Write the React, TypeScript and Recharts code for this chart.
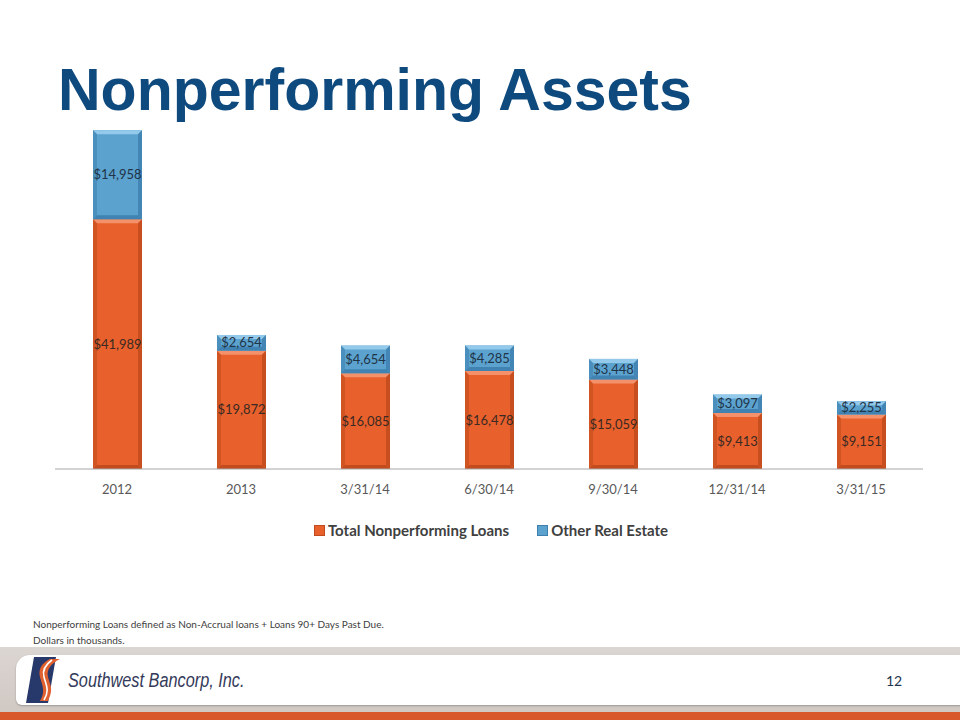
import { BarChart, Bar, XAxis, YAxis, Legend, LabelList } from 'recharts'

// Period labels along the x axis
const periods = ['2012', '2013', '3/31/14', '6/30/14', '9/30/14', '12/31/14', '3/31/15']

// Dollars in thousands
const nonperformingLoans = [41989, 19872, 16085, 16478, 15059, 9413, 9151]
const otherRealEstate = [14958, 2654, 4654, 4285, 3448, 3097, 2255]

const chartData = periods.map((name, i) => ({
  name,
  loans: nonperformingLoans[i],
  ore: otherRealEstate[i]
}))

const COLORS = {
  title: '#0E4A7E',
  orange: '#E8602C',
  orangeLight: '#F4916A',
  orangeDark: '#BE4A1D',
  blue: '#5BA2CF',
  blueLight: '#93C9EA',
  blueDark: '#3D80AE',
  text: '#595959',
  legend: '#404040'
}

const FONT = 'Lato, "Open Sans", sans-serif'

const money = (v: any) => `$${Number(v).toLocaleString('en-US')}`

// bar with a little bevel, like the office chart style
const bevelShape = (light: string, dark: string) => (props: any) => {
  const { x, y, width, height, fill } = props
  if (!height || height <= 0) return null
  const b = Math.min(4, height / 3)
  return (
    <g>
      <rect x={x} y={y} width={width} height={height} fill={fill} />
      <polygon
        points={`${x},${y} ${x + width},${y} ${x + width - b},${y + b} ${x + b},${y + b}`}
        fill={light}
      />
      <polygon
        points={`${x},${y} ${x + b},${y + b} ${x + b},${y + height - b} ${x},${y + height}`}
        fill={dark}
        opacity={0.55}
      />
      <polygon
        points={`${x + width},${y} ${x + width - b},${y + b} ${x + width - b},${y + height - b} ${x + width},${y + height}`}
        fill={dark}
        opacity={0.8}
      />
      <polygon
        points={`${x},${y + height} ${x + b},${y + height - b} ${x + width - b},${y + height - b} ${x + width},${y + height}`}
        fill={dark}
        opacity={0.9}
      />
    </g>
  )
}

const LegendContent = () => {
  const items = [
    { label: 'Total Nonperforming Loans', color: COLORS.orange, edge: COLORS.orangeDark },
    { label: 'Other Real Estate', color: COLORS.blue, edge: COLORS.blueDark }
  ]
  return (
    <div
      style={{
        display: 'flex',
        justifyContent: 'center',
        gap: 28,
        paddingLeft: 22,
        fontFamily: FONT
      }}
    >
      {items.map((it) => (
        <div key={it.label} style={{ display: 'flex', alignItems: 'center', gap: 3 }}>
          <span
            style={{
              display: 'inline-block',
              width: 9,
              height: 9,
              background: it.color,
              border: `1px solid ${it.edge}`
            }}
          />
          <span style={{ fontSize: 15, fontWeight: 700, color: COLORS.legend }}>{it.label}</span>
        </div>
      ))}
    </div>
  )
}

const Logo = () => (
  <svg width={40} height={46} viewBox="0 0 40 46">
    <polygon points="8,0 30,0 22,46 0,46" fill="#27396B" />
    <path
      d="M24,2 L34,2 C26,6 20,12 22,20 C24,28 28,32 22,44 L14,44 C20,34 16,28 14,20 C12,12 16,6 24,2 Z"
      fill="#E0612F"
    />
    <path
      d="M26,3 C19,8 16,13 18,20 C20,28 24,33 18,43"
      stroke="#fff"
      strokeWidth={1.6}
      fill="none"
    />
  </svg>
)

export default function App() {
  return (
    <div
      style={{
        position: 'absolute',
        left: 0,
        top: 0,
        width: 960,
        height: 720,
        background: '#fff',
        overflow: 'hidden'
      }}
    >
      <div
        style={{
          position: 'absolute',
          left: 58,
          top: 56,
          fontFamily: '"Liberation Sans", Arial, sans-serif',
          fontWeight: 700,
          fontSize: 59,
          color: COLORS.title,
          whiteSpace: 'nowrap'
        }}
      >
        Nonperforming Assets
      </div>

      <div style={{ position: 'absolute', left: 0, top: 0 }}>
        <BarChart
          width={960}
          height={560}
          data={chartData}
          margin={{ top: 112, right: 37, left: 55, bottom: 61 }}
          barSize={49}
        >
          <XAxis
            dataKey="name"
            height={30}
            tickLine={false}
            tickMargin={10}
            axisLine={{ stroke: '#A6A6A6' }}
            tick={{ fill: COLORS.text, fontSize: 13, fontFamily: FONT }}
          />
          <YAxis hide domain={[0, 60000]} />
          <Legend
            layout="horizontal"
            verticalAlign="middle"
            align="center"
            content={<LegendContent />}
            wrapperStyle={{ top: 521, left: 0, width: 960 }}
          />
          <Bar
            dataKey="loans"
            stackId="a"
            name="Total Nonperforming Loans"
            fill={COLORS.orange}
            shape={bevelShape(COLORS.orangeLight, COLORS.orangeDark)}
            isAnimationActive={false}
          >
            <LabelList
              dataKey="loans"
              position="center"
              formatter={money}
              style={{ fill: '#3A2A22', fontSize: 13, fontFamily: FONT }}
            />
          </Bar>
          <Bar
            dataKey="ore"
            stackId="a"
            name="Other Real Estate"
            fill={COLORS.blue}
            shape={bevelShape(COLORS.blueLight, COLORS.blueDark)}
            isAnimationActive={false}
          >
            <LabelList
              dataKey="ore"
              position="center"
              formatter={money}
              style={{ fill: '#1F3447', fontSize: 13, fontFamily: FONT }}
            />
          </Bar>
        </BarChart>
      </div>

      <div
        style={{
          position: 'absolute',
          left: 33,
          top: 616,
          fontFamily: FONT,
          fontSize: 10,
          lineHeight: '16px',
          color: '#404040'
        }}
      >
        Nonperforming Loans defined as Non-Accrual loans + Loans 90+ Days Past Due.
        <br />
        Dollars in thousands.
      </div>

      {/* footer band */}
      <div
        style={{
          position: 'absolute',
          left: 0,
          top: 647,
          width: 960,
          height: 65,
          background: 'linear-gradient(#DCD6D2, #CFC8C3)'
        }}
      />
      <div
        style={{
          position: 'absolute',
          left: 16,
          top: 655,
          width: 960,
          height: 50,
          background: '#fff',
          borderTopLeftRadius: 14,
          borderBottomLeftRadius: 6,
          boxShadow: '0 1px 2px rgba(0,0,0,0.25)'
        }}
      />
      <div style={{ position: 'absolute', left: 26, top: 657 }}>
        <Logo />
      </div>
      <div
        style={{
          position: 'absolute',
          left: 68,
          top: 669,
          fontFamily: '"Liberation Sans", Arial, sans-serif',
          fontStyle: 'italic',
          fontSize: 19.5,
          color: '#343A5A',
          whiteSpace: 'nowrap',
          transform: 'scaleX(0.835)',
          transformOrigin: 'left center'
        }}
      >
        Southwest Bancorp, Inc.
      </div>
      <div
        style={{
          position: 'absolute',
          left: 886,
          top: 672,
          fontFamily: FONT,
          fontSize: 14,
          color: '#1F3550'
        }}
      >
        12
      </div>
      <div
        style={{
          position: 'absolute',
          left: 0,
          top: 712,
          width: 960,
          height: 8,
          background: '#D9582B'
        }}
      />
    </div>
  )
}
